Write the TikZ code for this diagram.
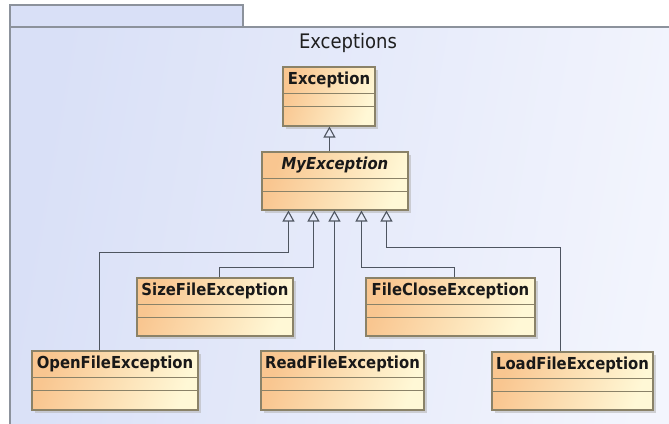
\documentclass[tikz,border=0pt]{standalone}
\usepackage{fontspec}
\setmainfont{DejaVu Sans Condensed}
\usetikzlibrary{arrows.meta,calc,shadows}
\definecolor{frameA}{HTML}{D9E0F7}
\definecolor{frameB}{HTML}{F3F5FD}
\definecolor{frameline}{HTML}{8C929C}
\definecolor{boxA}{HTML}{F9C690}
\definecolor{boxB}{HTML}{FFF8D6}
\definecolor{boxline}{HTML}{8A8268}
\definecolor{conline}{HTML}{4E5560}
\tikzset{
  umlclass/.style={rectangle, draw=boxline, line width=1.1pt, minimum height=58pt,
    inner sep=0pt, shading=axis, left color=boxA, right color=boxB, shading angle=70,
    drop shadow={shadow xshift=3pt, shadow yshift=-3pt, fill=black!28, opacity=0.6}},
  clsname/.style={font=\bfseries\fontsize{16.5}{18}\selectfont, text=black!90, inner sep=0pt},
  compline/.style={draw=boxline, line width=1pt},
  gen/.style={draw=conline, line width=1.1pt, -{Triangle[open, length=11pt, width=12pt]}},
}
\newcommand{\umlbox}[6]{% name, x1, y1, x2, y2, text
  \node[umlclass, minimum width={#4-#2}, minimum height={#5-#3}] (#1) at ({(#2+#4)/2},{(#3+#5)/2}) {};
  \draw[compline] ($(#1.north west)+(0,27)$) -- ($(#1.north east)+(0,27)$);
  \draw[compline] ($(#1.north west)+(0,40)$) -- ($(#1.north east)+(0,40)$);
  \node[clsname] (#1-label) at ($(#1.north)+(0,13.5)$) {#6};
}
\begin{document}
\begin{tikzpicture}[x=1pt, y=-1pt]
\useasboundingbox (0,0) rectangle (669,423);
\begin{scope}
\clip (0,0) rectangle (669,423);
% tab
\path[fill=frameA, draw=frameline, line width=1.4pt] (10,5) rectangle (243,27);
% frame
\shade[left color=frameA, right color=frameB, shading angle=80] (10,27) rectangle (690,440);
\draw[frameline, line width=1.4pt] (10,440) -- (10,27) -- (690,27);
\end{scope}
\node[font=\fontsize{20}{22}\selectfont, text=black!88] (title) at (348,43) {Exceptions};

\umlbox{exc}{283}{67}{375}{126}{Exception}
\umlbox{myexc}{262}{152}{408}{210}{\itshape MyException}
\umlbox{size}{137}{278}{293}{336}{SizeFileException}
\umlbox{close}{366}{278}{535}{336}{FileCloseException}
\umlbox{open}{32}{351}{198}{410}{OpenFileException}
\umlbox{read}{261}{351}{424}{410}{ReadFileException}
\umlbox{load}{492}{352}{653}{410}{LoadFileException}

% attachment points on MyException
\coordinate (m0) at ($(myexc.north west)+(68,0)$);
\coordinate (m1) at ($(myexc.south west)+(27,0)$);
\coordinate (m2) at ($(myexc.south west)+(52,0)$);
\coordinate (m3) at ($(myexc.south west)+(73,0)$);
\coordinate (m4) at ($(myexc.south west)+(100,0)$);
\coordinate (m5) at ($(myexc.south west)+(125,0)$);

\draw[gen] (m0) -- (m0 |- exc.south);
\draw[gen] ($(open.north west)+(68,0)$) |- ($(m1)+(0,42)$) -- (m1);
\draw[gen] ($(size.north west)+(83,0)$) |- ($(m2)+(0,57)$) -- (m2);
\draw[gen] (m3 |- read.north) -- (m3);
\draw[gen] ($(close.north west)+(89,0)$) |- ($(m4)+(0,57)$) -- (m4);
\draw[gen] ($(load.north west)+(69,0)$) |- ($(m5)+(0,37)$) -- (m5);
\end{tikzpicture}
\end{document}
